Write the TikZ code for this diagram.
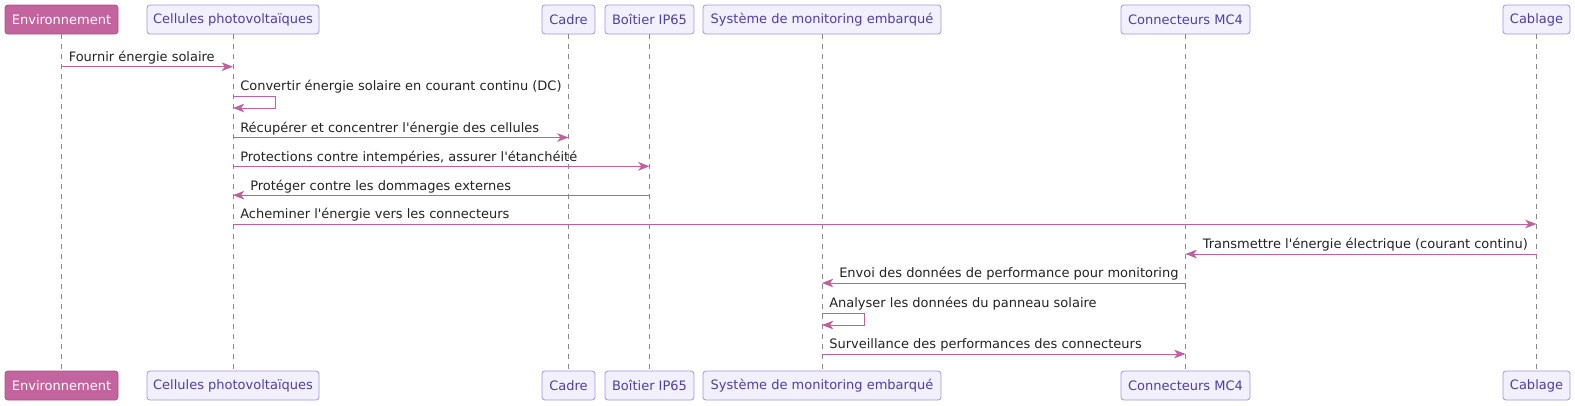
\documentclass[tikz,border=0pt]{standalone}
\usepackage{fontspec}
\newfontfamily\dv{DejaVu Sans}
\usetikzlibrary{arrows.meta}
\definecolor{arrowc}{HTML}{C2609D}
\definecolor{pfill}{HTML}{F3F0FE}
\definecolor{pdraw}{HTML}{A692E4}
\definecolor{ptext}{HTML}{4D3FA3}
\definecolor{efill}{HTML}{C4649F}
\definecolor{edraw}{HTML}{A9508A}
\definecolor{lifec}{HTML}{888888}
\definecolor{msgtext}{HTML}{222222}
\tikzset{
  part/.style={draw=pdraw, fill=pfill, text=ptext, rounded corners=2.2pt, line width=0.6pt,
    minimum width=#1*0.75pt, minimum height=21.75pt, inner sep=0pt,
    font=\dv\fontsize{9.75pt}{11pt}\selectfont},
  epart/.style={part=#1, fill=efill, draw=edraw, text=white},
  life/.style={draw=lifec, line width=0.6pt, dash pattern=on 3.75pt off 3.75pt},
  msg/.style={draw=arrowc, line width=0.75pt, -{Stealth[length=8.5pt,width=6.5pt,inset=2.4pt]}},
  lbl/.style={anchor=base west, inner sep=0pt, text=msgtext, font=\dv\fontsize{9.75pt}{11pt}\selectfont},
}
\begin{document}
\begin{tikzpicture}[x=0.75pt,y=-0.75pt]
\useasboundingbox (0,0) rectangle (1575,405);
% top participants
\node[epart=113] (envT) at (61.5,19.5) {Environnement};
\node[part=172] (celT) at (233,19.5) {Cellules photovoltaïques};
\node[part=53] (cadT) at (568.5,19.5) {Cadre};
\node[part=89] (boiT) at (649.5,19.5) {Boîtier IP65};
\node[part=238] (sysT) at (822,19.5) {Système de monitoring embarqué};
\node[part=129] (mcT) at (1185.5,19.5) {Connecteurs MC4};
\node[part=67] (cabT) at (1536.5,19.5) {Cablage};
% bottom participants
\node[epart=113] (envB) at (61.5,385.5) {Environnement};
\node[part=172] (celB) at (233,385.5) {Cellules photovoltaïques};
\node[part=53] (cadB) at (568.5,385.5) {Cadre};
\node[part=89] (boiB) at (649.5,385.5) {Boîtier IP65};
\node[part=238] (sysB) at (822,385.5) {Système de monitoring embarqué};
\node[part=129] (mcB) at (1185.5,385.5) {Connecteurs MC4};
\node[part=67] (cabB) at (1536.5,385.5) {Cablage};
% lifelines
\foreach \p in {env,cel,cad,boi,sys,mc,cab}{
  \draw[life] (\p T.south) -- (\p B.north);
}
% messages
\draw[msg] (envT.south |- 0,66.7) -- (celT.south |- 0,66.7);
\node[lbl] (m1) at ([xshift=5.25pt]envT.south |- 0,61.5) {Fournir énergie solaire};

\draw[msg] (celT.south |- 0,96) -- ++(42,0) -- ++(0,12) -- (celT.south |- 0,108);
\node[lbl] (m2) at ([xshift=5.25pt]celT.south |- 0,90.8) {Convertir énergie solaire en courant continu (DC)};

\draw[msg] (celT.south |- 0,137.5) -- (cadT.south |- 0,137.5);
\node[lbl] (m3) at ([xshift=5.25pt]celT.south |- 0,132.3) {Récupérer et concentrer l'énergie des cellules};

\draw[msg] (celT.south |- 0,166.3) -- (boiT.south |- 0,166.3);
\node[lbl] (m4) at ([xshift=5.25pt]celT.south |- 0,161.1) {Protections contre intempéries, assurer l'étanchéité};

\draw[msg] (boiT.south |- 0,195.2) -- (celT.south |- 0,195.2);
\node[lbl] (m5) at ([xshift=12.75pt]celT.south |- 0,190) {Protéger contre les dommages externes};

\draw[msg] (celT.south |- 0,224) -- (cabT.south |- 0,224);
\node[lbl] (m6) at ([xshift=5.25pt]celT.south |- 0,218.8) {Acheminer l'énergie vers les connecteurs};

\draw[msg] (cabT.south |- 0,254) -- (mcT.south |- 0,254);
\node[lbl] (m7) at ([xshift=12.75pt]mcT.south |- 0,248.8) {Transmettre l'énergie électrique (courant continu)};

\draw[msg] (mcT.south |- 0,283) -- (sysT.south |- 0,283);
\node[lbl] (m8) at ([xshift=12.75pt]sysT.south |- 0,277.8) {Envoi des données de performance pour monitoring};

\draw[msg] (sysT.south |- 0,313) -- ++(42,0) -- ++(0,12) -- (sysT.south |- 0,325);
\node[lbl] (m9) at ([xshift=5.25pt]sysT.south |- 0,307.8) {Analyser les données du panneau solaire};

\draw[msg] (sysT.south |- 0,354) -- (mcT.south |- 0,354);
\node[lbl] (m10) at ([xshift=5.25pt]sysT.south |- 0,348.8) {Surveillance des performances des connecteurs};
\end{tikzpicture}
\end{document}
